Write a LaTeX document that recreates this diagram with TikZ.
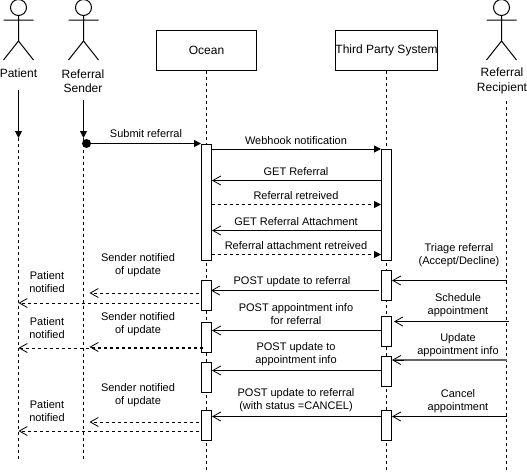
\documentclass[tikz,border=0pt]{standalone}
\usepackage{fontspec}
\setmainfont{Liberation Sans}
\usetikzlibrary{arrows.meta}
\tikzset{
  x=1pt,y=-1pt,
  box/.style={draw=black,line width=1pt,fill=white,minimum width=100pt,minimum height=40pt,inner sep=0pt,font=\fontsize{12}{14}\selectfont},
  act/.style={draw=black,line width=1pt,fill=white,minimum width=10pt,inner sep=0pt,anchor=north},
  lbl/.style={inner sep=0pt,align=center,font=\fontsize{11}{13}\selectfont},
  alabel/.style={inner sep=0pt,align=center,font=\fontsize{12}{14.5}\selectfont},
  life/.style={line width=1pt,dash pattern=on 3pt off 3pt},
  solidmsg/.style={line width=1pt,-{Triangle[length=7pt,width=7pt]}},
  dashmsg/.style={line width=1pt,dash pattern=on 3pt off 3pt,-{Triangle[length=7pt,width=7pt]}},
  openmsg/.style={line width=1pt,-{Straight Barb[length=8pt,width=9pt,line width=0.8pt]}},
  opendash/.style={line width=1pt,dash pattern=on 3pt off 3pt,-{Straight Barb[length=8pt,width=9pt,line width=0.8pt]}},
  stick/.style={line width=1pt,draw=black}
}
\newcommand{\stickman}[1]{%
  \draw[stick,fill=white] (#1,7.5) circle (8pt);
  \draw[stick] (#1,15.5) -- (#1,41) (#1-15,20) -- (#1+15,20) (#1-15,60) -- (#1,41) -- (#1+15,60);
}
\begin{document}
\begin{tikzpicture}
\path[fill=white,use as bounding box] (0,0) rectangle (527,472);
% actors
\stickman{18.5}
\stickman{83.5}
\stickman{501.5}
\node[alabel] (patient) at (18.5,73.5) {Patient};
\node[alabel] (sender) at (83,81) {Referral\\Sender};
\node[alabel] (recipient) at (502,81) {Referral\\Recipient};
% lifeline ends
\coordinate (pS) at (18.5,90);
\coordinate (pM) at (18.5,138);
\coordinate (pE) at (18.5,461);
\coordinate (sS) at (83.5,100);
\coordinate (sM) at (83.5,138);
\coordinate (sE) at (83.5,461);
\coordinate (rS) at (506.5,101);
\coordinate (rE) at (506.5,470);
\coordinate (oE) at (206.5,470);
\coordinate (tE) at (386.5,470);
\draw[life] (pM) -- (pE);
\draw[life] (sM) -- (sE);
\draw[life] (rS) -- (rE);
\node[box] (ocean) at (206.5,50.5) {Ocean};
\node[box] (third) at (386.5,50.5) {Third Party System};
\draw[life] (ocean.south) -- (oE);
\draw[life] (third.south) -- (tE);
\draw[solidmsg] (pS) -- (pM);
\draw[solidmsg] (sS) -- (sM);
% activations
\node[act,minimum height=116pt] (o1) at (206.5,144) {};
\node[act,minimum height=30pt] (o2) at (206.5,280) {};
\node[act,minimum height=30pt] (o3) at (206.5,322) {};
\node[act,minimum height=30pt] (o4) at (206.5,362) {};
\node[act,minimum height=30pt] (o5) at (206.5,410) {};
\node[act,minimum height=111pt] (t1) at (386.5,149) {};
\node[act,minimum height=30pt] (t2) at (386.5,270) {};
\node[act,minimum height=30pt] (t3) at (386.5,316) {};
\node[act,minimum height=30pt] (t4) at (386.5,356) {};
\node[act,minimum height=30pt] (t5) at (386.5,410) {};
% submit
\node[circle,fill=black,minimum size=9pt,inner sep=0pt] (dot) at (86.5,143.5) {};
\draw[solidmsg] (dot.center) -- (o1.west |- dot.center);
\node[lbl] at (146,134) {Submit referral};
% Ocean <-> Third party
\draw[solidmsg] (o1.east |- 0,149) -- (t1.west |- 0,149);
\node[lbl] at (296,140.5) {Webhook notification};
\draw[openmsg] (t1.west |- 0,180.5) -- (o1.east |- 0,180.5);
\node[lbl] at (296,171.5) {GET Referral};
\draw[dashmsg] (o1.east |- 0,204.5) -- (t1.west |- 0,204.5);
\node[lbl] at (296,195.5) {Referral retreived};
\draw[openmsg] (t1.west |- 0,230.5) -- (o1.east |- 0,230.5);
\node[lbl] at (296,221.5) {GET Referral Attachment};
\draw[dashmsg] (o1.east |- 0,254.5) -- (t1.west |- 0,254.5);
\node[lbl] at (296,245.5) {Referral attachment retreived};
\draw[openmsg] ([xshift=-2pt]t2.west |- 0,290.5) -- ([xshift=-1pt]o2.east |- 0,290.5);
\node[lbl] at (292,281.5) {POST update to referral};
\draw[openmsg] (t3.west |- 0,330.5) -- (o3.east |- 0,330.5);
\node[lbl] at (296,314.5) {POST appointment info\\for referral};
\draw[openmsg] (t4.west |- 0,370.5) -- (o4.east |- 0,370.5);
\node[lbl] at (296,354.5) {POST update to\\appointment info};
\draw[openmsg] (t5.west |- 0,416.5) -- (o5.east |- 0,416.5);
\node[lbl] at (296,400.5) {POST update to referral\\(with status =CANCEL)};
% Recipient -> Third party
\draw[openmsg] (rS |- 0,280.5) -- (t2.east |- 0,280.5);
\node[lbl] at (459,255) {Triage referral\\(Accept/Decline)};
\coordinate (rX) at (508.5,321.5);
\draw[openmsg] (rX) -- ([xshift=2pt]t3.east |- rX);
\node[lbl] at (458,305) {Schedule\\appointment};
\draw[line width=2pt,draw=black!60] (rS |- 0,360) -- ([xshift=3pt]t4.east |- 0,360);
\draw[line width=0.8pt,-{Straight Barb[length=8pt,width=9pt,line width=0.8pt]}] ([xshift=12pt]t4.east |- 0,360) -- (t4.east |- 0,360);
\node[lbl] at (458,345) {Update\\appointment info};
\draw[openmsg] (rS |- 0,416.5) -- (t5.east |- 0,416.5);
\node[lbl] at (458,401) {Cancel\\appointment};
% Ocean -> Sender / Patient
\coordinate (s1) at (89.5,293);
\coordinate (p1) at (18.5,303);
\coordinate (s2) at (89.5,347);
\coordinate (p2) at (18.5,348);
\coordinate (s3) at (89.5,422);
\coordinate (p3) at (18.5,431);
\draw[opendash] ([xshift=-2pt]o2.west |- s1) -- (s1);
\draw[opendash] ([xshift=-2pt]o2.west |- p1) -- (p1);
\draw[opendash] ([xshift=2pt]o3.west |- s2) -- (s2);
\draw[opendash] ([xshift=2pt]o3.west |- p2) -- (p2);
\draw[opendash] ([xshift=-2pt]o5.west |- s3) -- (s3);
\draw[opendash] ([xshift=-2pt]o5.west |- p3) -- (p3);
\node[lbl] at (138,265.5) {Sender notified\\of update};
\node[lbl] at (47,282.5) {Patient\\notified};
\node[lbl] at (138,324.5) {Sender notified\\of update};
\node[lbl] at (47,328.5) {Patient\\notified};
\node[lbl] at (138,395.5) {Sender notified\\of update};
\node[lbl] at (47,411.5) {Patient\\notified};
\end{tikzpicture}
\end{document}
